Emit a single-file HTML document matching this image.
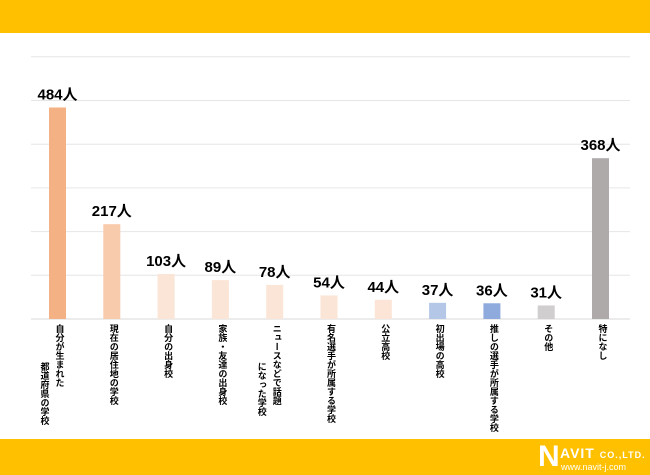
<!DOCTYPE html>
<html><head><meta charset="utf-8"><style>
body{margin:0;width:650px;height:475px;background:#fff;overflow:hidden;font-family:"Liberation Sans","Noto Sans CJK JP",sans-serif}
.band{position:absolute;left:0;width:650px;background:#ffc000}
</style></head><body>
<div class="band" style="top:0;height:33px"></div>
<div class="band" style="top:439px;height:36px"></div>
<div style="position:absolute;left:538px;top:442px;width:110px;height:32px;color:#fff;font-weight:bold">
<span style="position:absolute;left:0;top:-2px;font-size:30px">N</span>
<span style="position:absolute;left:22px;top:3px;font-size:14px;letter-spacing:1px">AVIT <span style="font-size:9px">CO.,LTD.</span></span>
<span style="position:absolute;left:23px;top:20px;font-size:9px;font-weight:normal">www.navit-j.com</span>
</div>
<svg id="chart" width="650" height="475" style="position:absolute;left:0;top:0"></svg>
<script>
const categories=["自分が生まれた\n都道府県の学校","現在の居住地の学校","自分の出身校","家族・友達の出身校","ニュースなどで話題\nになった学校","有名選手が所属する学校","公立高校","初出場の高校","推しの選手が所属する学校","その他","特になし"];
const values=[484,217,103,89,78,54,44,37,36,31,368];
const colors=["#f4b183","#f8cbad","#fbe5d6","#fbe5d6","#fbe5d6","#fbe5d6","#fce4d6","#b4c7e7","#8faadc","#d0cece","#aeaaaa"];
const ticks=[0,100,200,300,400,500,600];
const NS="http://www.w3.org/2000/svg";
const svg=document.getElementById('chart');
const y0=319,ppu=0.437,x0=57.5,step=54.3,bw=17;
const y=v=>y0-v*ppu, x=i=>x0+i*step;
function mk(t,a){const e=document.createElementNS(NS,t);for(const k in a)e.setAttribute(k,a[k]);svg.appendChild(e);return e;}
ticks.forEach(t=>{const l=mk('line',{x1:31,x2:630,y1:y(t),y2:y(t),stroke:t===0?'#d9d9d9':'#e6e6e6','stroke-width':1});

});
values.forEach((v,i)=>{
const r=mk('rect',{x:x(i)-bw/2,y:y(v),width:bw,height:v*ppu,fill:colors[i]});


const t=mk('text',{x:x(i),y:y(v)-8,'text-anchor':'middle','font-size':15,'font-weight':'bold',fill:'#000'});
t.textContent=v+'人';


const lines=categories[i].split('\n');
lines.forEach((ln,j)=>{
const tx=mk('text',{x:x(i)+2-j*15,y:324+j*38,'font-size':9,'font-weight':'bold',fill:'#000','writing-mode':'tb','glyph-orientation-vertical':0,style:'writing-mode:vertical-rl'});
tx.textContent=ln;


});
});
</script>
</body></html>
